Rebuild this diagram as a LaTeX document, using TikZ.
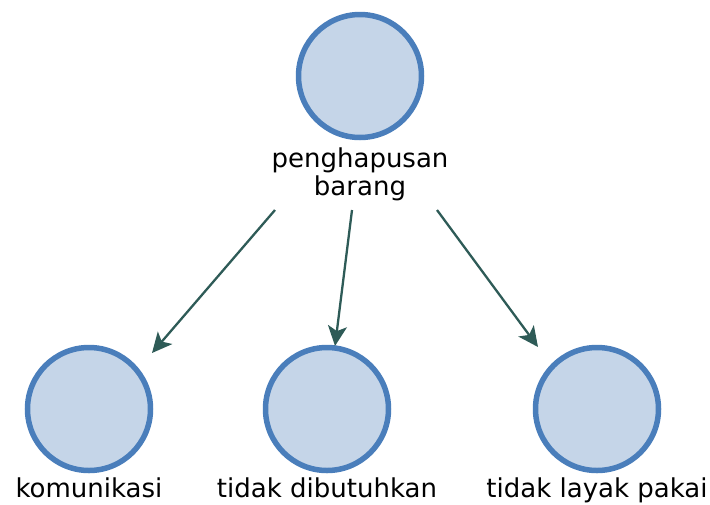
\documentclass[tikz,border=0pt]{standalone}
\usepackage{fontspec}
\setmainfont{DejaVu Sans}
\usetikzlibrary{arrows.meta}
\definecolor{circfill}{HTML}{C5D5E8}
\definecolor{circdraw}{HTML}{4A7EBB}
\definecolor{arrcol}{HTML}{2E5B57}
\tikzset{
  bubble/.style={circle, draw=circdraw, fill=circfill, line width=5.5pt, minimum size=123pt, inner sep=0pt},
  lbl/.style={inner sep=0pt, font=\fontsize{26}{27.5}\selectfont, text=black},
  conn/.style={draw=arrcol, line width=2.3pt, -{Stealth[length=20pt,width=19pt,inset=5pt]}}
}
\begin{document}
\begin{tikzpicture}[x=1pt,y=-1pt]
\useasboundingbox (0,0) rectangle (710,504);
\node[bubble] (top) at (360,76) {};
\node[lbl, align=center, anchor=north] (toplbl) at (360,148) {penghapusan\\barang};
\node[bubble] (left) at (89,409) {};
\node[bubble] (mid) at (327,409) {};
\node[bubble] (right) at (597,409) {};
\node[lbl, anchor=base] (leftlbl) at (89,497) {komunikasi};
\node[lbl, anchor=base] (midlbl) at (327,497) {tidak dibutuhkan};
\node[lbl, anchor=base] (rightlbl) at (597,497) {tidak layak pakai};
\coordinate (s1) at (275,210);
\coordinate (e1) at (152,353);
\coordinate (s2) at (352,210);
\coordinate (e2) at (335,346);
\coordinate (s3) at (437,210);
\coordinate (e3) at (538,347);
\draw[conn] (s1) -- (e1);
\draw[conn] (s2) -- (e2);
\draw[conn] (s3) -- (e3);
\end{tikzpicture}
\end{document}
